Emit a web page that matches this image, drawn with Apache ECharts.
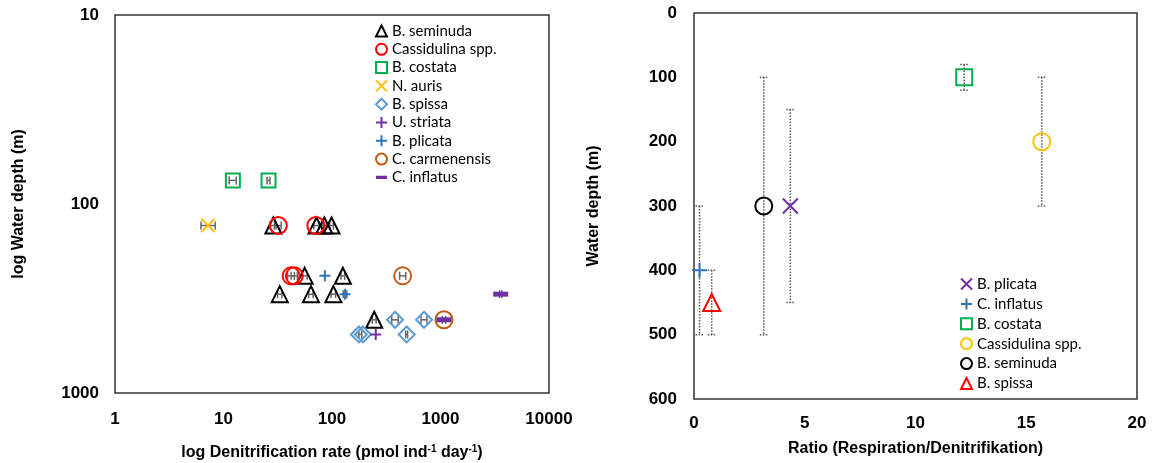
<!DOCTYPE html>
<html>
<head>
<meta charset="utf-8">
<script src="https://cdn.jsdelivr.net/npm/echarts@6/dist/echarts.min.js"></script>
<style>
  html, body { margin: 0; padding: 0; background: #fff; }
  #chart { width: 1152px; height: 463px; }
</style>
</head>
<body>
<div id="chart"></div>
<script>
// left panel: [denitrification rate, water depth]
const seminudaL = [[28.8,130],[72,130],[85,130],[99,130],[56,240],[126,240],[33,300],[64,300],[103,300],[245,410]];
const cassidulinaL = [[32,130],[71,130],[42,240],[45,240]];
const costataL = [[12.2,75],[26,75]];
const aurisL = [[7.2,130]];
const spissaL = [[381,410],[705,410],[177,490],[193,490],[488,490]];
const striataL = [[253,490]];
const plicataL = [[86,240],[132,300]];
const carmenensisL = [[448,240],[1077,410]];
const inflatusL = [[3590,300],[1077,410]];

// left panel x error bars: [rate, depth, low, high]
const rateErrL = [
    [12.2,75,11.3,13.1],[26,75,25.2,26.8],[7.2,130,6.2,8.4],
    [28.8,130,27,30.5],[32,130,29.5,34],[72,130,68,76],[85,130,81,89],[99,130,95,103],
    [42,240,39,45],[45,240,42,48],[56,240,53,59],[126,240,121,131],[448,240,420,478],
    [33,300,31.5,34.5],[64,300,61,67],[103,300,98,108],[132,300,127,137],[3590,300,3500,3680],
    [245,410,235,255],[381,410,355,408],[705,410,660,750],[1077,410,1040,1115],
    [182,490,177,188],[488,490,478,498]
];

// right panel
const ratioNames = ['B. plicata','C. inflatus','B. costata','Cassidulina spp.','B. seminuda','B. spissa'];
const ratioX = [4.35, 0.25, 12.2, 15.7, 3.15, 0.8];
const ratioDepth = [300, 400, 100, 200, 300, 450];
const depthLow = [150, 300, 80, 100, 100, 400];
const depthHigh = [450, 500, 120, 300, 500, 500];

const xTicksL = [1, 10, 100, 1000, 10000];
const yTicksL = [10, 100, 1000];

const NONE = 'rgba(0,0,0,0)';
const X_PATH = 'path://M0,0L10,10M10,0L0,10';
const PLUS_PATH = 'path://M5,0L5,10M0,5L10,5';
const DASH_PATH = 'path://M0,0L10,0L10,3L0,3Z';

const chart = echarts.init(document.getElementById('chart'));

function hollow(name, data, symbol, size, color) {
    return {
        name: name, type: 'scatter', xAxisIndex: 0, yAxisIndex: 0, z: 3,
        data: data, symbol: symbol, symbolSize: size,
        itemStyle: {color: NONE, borderColor: color, borderWidth: 2, opacity: 1}
    };
}

const rStyle = {
    'B. plicata': {symbol: X_PATH, size: 15, color: '#7030a0'},
    'C. inflatus': {symbol: PLUS_PATH, size: 15, color: '#2e75b6'},
    'B. costata': {symbol: 'rect', size: 16, color: '#00b050'},
    'Cassidulina spp.': {symbol: 'circle', size: 17, color: '#ffc000'},
    'B. seminuda': {symbol: 'circle', size: 17, color: '#000000'},
    'B. spissa': {symbol: 'triangle', size: 17, color: '#ff0000'}
};

const errData = ratioX.map(function (x, i) { return [x, depthLow[i], depthHigh[i]]; });

const series = [
    {
        // small horizontal error bars, left panel
        type: 'custom', xAxisIndex: 0, yAxisIndex: 0, data: rateErrL, silent: true, z: 2,
        renderItem: function (params, api) {
            const a = api.coord([api.value(2), api.value(1)]);
            const b = api.coord([api.value(3), api.value(1)]);
            const st = {stroke: '#666', lineWidth: 1.5};
            return {
                type: 'group',
                children: [
                    {type: 'line', shape: {x1: a[0], y1: a[1], x2: b[0], y2: b[1]}, style: st},
                    {type: 'line', shape: {x1: a[0], y1: a[1] - 4, x2: a[0], y2: a[1] + 4}, style: st},
                    {type: 'line', shape: {x1: b[0], y1: b[1] - 4, x2: b[0], y2: b[1] + 4}, style: st}
                ]
            };
        }
    },
    hollow('B. seminuda', seminudaL, 'triangle', 16, '#000000'),
    hollow('Cassidulina spp.', cassidulinaL, 'circle', 17, '#ff0000'),
    hollow('B. costata', costataL, 'rect', 14, '#00b050'),
    hollow('N. auris', aurisL, X_PATH, 13, '#ffc000'),
    hollow('B. spissa', spissaL, 'diamond', 16, '#5b9bd5'),
    hollow('U. striata', striataL, PLUS_PATH, 11, '#7030a0'),
    hollow('B. plicata', plicataL, PLUS_PATH, 11, '#2e75b6'),
    hollow('C. carmenensis', carmenensisL, 'circle', 17, '#c55a11'),
    {
        name: 'C. inflatus', type: 'scatter', xAxisIndex: 0, yAxisIndex: 0, z: 3,
        data: inflatusL, symbol: 'rect', symbolSize: [15, 5],
        itemStyle: {color: '#7030a0', opacity: 1}
    },
    {
        // dotted depth-range bars, right panel
        type: 'custom', xAxisIndex: 1, yAxisIndex: 1, data: errData, silent: true, z: 1,
        renderItem: function (params, api) {
            const x = api.value(0);
            const p1 = api.coord([x, api.value(1)]);
            const p2 = api.coord([x, api.value(2)]);
            const st = {stroke: '#555', lineWidth: 1.5, lineDash: [1.5, 1.5]};
            return {
                type: 'group',
                children: [
                    {type: 'line', shape: {x1: p1[0], y1: p1[1], x2: p2[0], y2: p2[1]}, style: st},
                    {type: 'line', shape: {x1: p1[0] - 4, y1: p1[1], x2: p1[0] + 4, y2: p1[1]}, style: st},
                    {type: 'line', shape: {x1: p2[0] - 4, y1: p2[1], x2: p2[0] + 4, y2: p2[1]}, style: st}
                ]
            };
        }
    }
];

ratioNames.forEach(function (n, i) {
    const s = rStyle[n];
    series.push({
        name: n + ' (R)', type: 'scatter', xAxisIndex: 1, yAxisIndex: 1, z: 3,
        data: [[ratioX[i], ratioDepth[i]]], symbol: s.symbol, symbolSize: s.size,
        itemStyle: {color: NONE, borderColor: s.color, borderWidth: 2, opacity: 1}
    });
});

const tickFont = {fontFamily: 'Liberation Sans', fontWeight: 'bold', fontSize: 17, color: '#000'};
const nameFont = {fontFamily: 'Liberation Sans', fontWeight: 'bold', fontSize: 16, color: '#000'};
const legendFont = {fontFamily: 'Lato', fontSize: 15, color: '#000', lineHeight: 16};

const option = {
    animation: false,
    backgroundColor: '#fff',
    grid: [
        {left: 115, top: 15, width: 434, height: 378, show: true, borderColor: '#333', borderWidth: 1.5,
         containLabel: false, outerBoundsMode: 'none'},
        {left: 694, top: 13, width: 443, height: 386, show: true, borderColor: '#333', borderWidth: 1.5,
         containLabel: false, outerBoundsMode: 'none'}
    ],
    xAxis: [
        {
            gridIndex: 0, type: 'log', logBase: 10, min: xTicksL[0], max: xTicksL[xTicksL.length - 1],
            axisLine: {show: false}, axisTick: {show: false}, splitLine: {show: false},
            axisLabel: Object.assign({margin: 18, formatter: function (v) { return String(Math.round(v)); }}, tickFont),
            name: 'log Denitrification rate (pmol ind{sup|-1} day{sup|-1})',
            nameLocation: 'middle', nameGap: 51,
            nameTextStyle: Object.assign({rich: {sup: {fontFamily: 'Liberation Sans', fontWeight: 'bold', fontSize: 10, padding: [0, 0, 8, 0]}}}, nameFont)
        },
        {
            gridIndex: 1, type: 'value', min: 0, max: 20, interval: 5,
            axisLine: {show: false}, axisTick: {show: false}, splitLine: {show: false},
            axisLabel: Object.assign({margin: 16}, tickFont),
            name: 'Ratio (Respiration/Denitrifikation)',
            nameLocation: 'middle', nameGap: 42, nameTextStyle: nameFont
        }
    ],
    yAxis: [
        {
            gridIndex: 0, type: 'log', logBase: 10, min: yTicksL[0], max: yTicksL[yTicksL.length - 1], inverse: true,
            axisLine: {show: false}, axisTick: {show: false}, splitLine: {show: false},
            axisLabel: Object.assign({margin: 16, formatter: function (v) { return String(Math.round(v)); }}, tickFont),
            name: 'log Water depth (m)', nameLocation: 'middle', nameGap: 88, nameTextStyle: nameFont
        },
        {
            gridIndex: 1, type: 'value', min: 0, max: 600, interval: 100, inverse: true,
            axisLine: {show: false}, axisTick: {show: false}, splitLine: {show: false},
            axisLabel: Object.assign({margin: 17}, tickFont),
            name: 'Water depth (m)', nameLocation: 'middle', nameGap: 92, nameTextStyle: nameFont
        }
    ],
    legend: [
        {
            orient: 'vertical', left: 370, top: 18, itemWidth: 11, itemHeight: 11, itemGap: 2.3,
            textStyle: legendFont,
            data: ['B. seminuda', 'Cassidulina spp.', 'B. costata', 'N. auris', 'B. spissa',
                   'U. striata', 'B. plicata', 'C. carmenensis', {name: 'C. inflatus', icon: DASH_PATH}]
        },
        {
            orient: 'vertical', left: 955, top: 271, itemWidth: 11, itemHeight: 11, itemGap: 3.9,
            textStyle: legendFont,
            formatter: function (n) { return n.replace(' (R)', ''); },
            data: ratioNames.map(function (n) { return n + ' (R)'; })
        }
    ],
    series: series
};

chart.setOption(option);
</script>
</body>
</html>
